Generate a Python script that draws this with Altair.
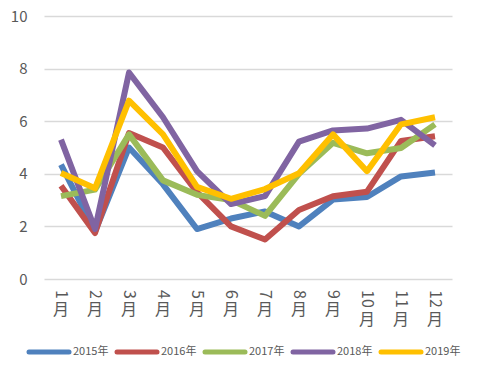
import altair as alt
import pandas as pd

months = ["1月", "2月", "3月", "4月", "5月", "6月", "7月", "8月", "9月", "10月", "11月", "12月"]
nums = ["1", "2", "3", "4", "5", "6", "7", "8", "9", "10", "11", "12"]
years = ["2015年", "2016年", "2017年", "2018年", "2019年"]
colors = ["#4F81BD", "#C0504D", "#9BBB59", "#8064A2", "#FFC000"]

s2015 = [4.35, 1.8, 5.0, 3.6, 1.9, 2.3, 2.57, 2.0, 3.02, 3.12, 3.9, 4.05]
s2016 = [3.55, 1.75, 5.55, 5.0, 3.3, 2.0, 1.5, 2.62, 3.15, 3.32, 5.25, 5.43]
s2017 = [3.15, 3.4, 5.5, 3.75, 3.2, 3.0, 2.4, 4.0, 5.18, 4.78, 4.98, 5.88]
s2018 = [5.3, 1.9, 7.85, 6.15, 4.1, 2.85, 3.15, 5.22, 5.65, 5.72, 6.05, 5.08]
s2019 = [4.03, 3.45, 6.78, 5.5, 3.5, 3.05, 3.42, 4.02, 5.5, 4.1, 5.88, 6.15]

series = [s2015, s2016, s2017, s2018, s2019]
rows = []
for yr, vals in zip(years, series):
    for i, (m, v) in enumerate(zip(months, vals)):
        rows.append({"month": m, "year": yr, "value": v, "idx": i})
df = pd.DataFrame(rows)
lab = pd.DataFrame({"month": months, "num": nums})
leg = pd.DataFrame({"year": years, "i": list(range(len(years)))})

cscale = alt.Scale(domain=years, range=colors)

xenc = alt.X("month:O", sort=months,
             scale=alt.Scale(type="point", padding=0.5),
             axis=alt.Axis(labels=False, ticks=False, domain=False, grid=False, title=None))

lines = alt.Chart(df).mark_line(strokeWidth=6, strokeJoin="round").encode(
    x=xenc,
    y=alt.Y("value:Q", scale=alt.Scale(domain=[0, 10]),
            axis=alt.Axis(values=[0, 2, 4, 6, 8, 10], title=None, domain=False, ticks=False,
                          labelPadding=17, labelFontSize=15, labelColor="#595959",
                          labelFont="Noto Sans CJK SC", gridColor="#D9D9D9", gridWidth=1.3)),
    color=alt.Color("year:N", scale=cscale, legend=None),
    order=alt.Order("idx:Q"),
)

digits = alt.Chart(lab).mark_text(angle=90, align="left", baseline="middle", fontSize=16,
                                  color="#595959", font="Noto Sans CJK SC").encode(
    x=xenc, y=alt.value(274), text="num:N")

yue = alt.Chart(lab).transform_calculate(
    ty="length(datum.num) > 1 ? 304 : 294"
).mark_text(align="center", baseline="middle", fontSize=16, color="#595959",
            font="Noto Sans CJK SC").encode(
    x=xenc, y=alt.Y("ty:Q", scale=None), text=alt.value("月"))

leg_base = alt.Chart(leg).transform_calculate(
    lx1="-15 + datum.i * 88", lx2="-15 + datum.i * 88 + 40", tx="-15 + datum.i * 88 + 44"
)
leg_sym = leg_base.mark_rule(strokeWidth=5, strokeCap="round").encode(
    x=alt.X("lx1:Q", scale=None), x2="lx2:Q", y=alt.value(336),
    color=alt.Color("year:N", scale=cscale, legend=None))
leg_txt = leg_base.mark_text(align="left", baseline="middle", fontSize=11, color="#595959",
                             font="Noto Sans CJK SC").encode(
    x=alt.X("tx:Q", scale=None), y=alt.value(336), text="year:N")

chart = alt.layer(lines, digits, yue, leg_sym, leg_txt).properties(
    width=408, height=263,
    autosize=alt.AutoSizeParams(type="none"),
    padding={"left": 36, "top": 8, "right": 21, "bottom": 87},
).configure_view(stroke=None)

chart.save("out.html", embed_options={"renderer": "svg", "actions": False})
